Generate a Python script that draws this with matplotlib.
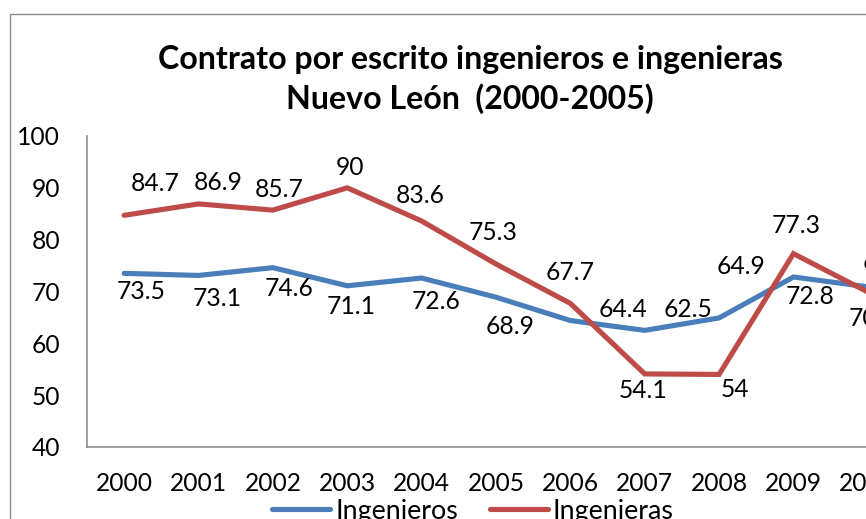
import matplotlib
matplotlib.use('Agg')
import matplotlib.pyplot as plt
from matplotlib import font_manager
from matplotlib.font_manager import FontProperties
from matplotlib.lines import Line2D
from matplotlib.patches import Rectangle

# ---------------- data ----------------
years = ['2000', '2001', '2002', '2003', '2004', '2005',
         '2006', '2007', '2008', '2009', '2010']
ingenieros = [73.5, 73.1, 74.6, 71.1, 72.6, 68.9, 64.4, 62.5, 64.9, 72.8, 70.9]
ingenieras = [84.7, 86.9, 85.7, 90.0, 83.6, 75.3, 67.7, 54.1, 54.0, 77.3, 69.9]
yticks = [40, 50, 60, 70, 80, 90, 100]
title_text = 'Contrato por escrito ingenieros e ingenieras\nNuevo León  (2000-2005)'
series_names = ['Ingenieros', 'Ingenieras']

# ---------------- style / layout ----------------
W, H, DPI = 866, 519, 100
BLUE = '#4A7EBB'
RED = '#BE4B48'
GRAY = '#868686'

# label offsets in pixels (dx, dy up), hand placed like the original
blue_off = [(17, -19), (19, -24), (16, -22), (4, -22), (14, -24), (14, -30),
            (53, 10), (43, 20), (22, 50), (17, -21), (5, -33)]
red_off = [(31, 31), (20, 20), (6, 20), (3, 19), (-1, 25), (-3, 31),
           (0, 30), (-2, -18), (16, -16), (3, 27), (19, 29)]


def has_font(name):
    try:
        font_manager.findfont(FontProperties(family=name), fallback_to_default=False)
        return True
    except Exception:
        return False


BODY = 'Lato' if has_font('Lato') else 'Liberation Sans'
TITLE_FONT = BODY

plt.rcParams['font.family'] = [BODY, 'DejaVu Sans']

fig = plt.figure(figsize=(W / DPI, H / DPI), dpi=DPI)
fig.patch.set_facecolor('white')
r = fig.canvas.get_renderer()


def fit_size(text, target_px, **kw):
    p = fig.text(0, 0, text, fontsize=20, **kw)
    w = p.get_window_extent(r).width
    p.remove()
    return 20 * target_px / w


# body font size so that "2000" is ~57 px wide, as in the original
FS = fit_size('2000', 57)
# legend font so that "Ingenieros" is ~123 px wide
LFS = fit_size(series_names[0], 123)
lem = LFS * DPI / 72  # legend em in px

# outer chart frame (extends beyond the cropped picture)
fig.add_artist(Rectangle((10 / W, -0.2), 2.0, 1 - 14 / H + 0.2,
                         transform=fig.transFigure, fill=False,
                         edgecolor='#8c8c8c', lw=1.0))

ax_l, ax_r, ax_t, ax_b = 87, 905, 136, 447
ax = fig.add_axes([ax_l / W, (H - ax_b) / H, (ax_r - ax_l) / W, (ax_b - ax_t) / H])

x = list(range(len(years)))
ax.plot(x, ingenieros, color=BLUE, lw=3.7, solid_joinstyle='miter', solid_capstyle='round')
ax.plot(x, ingenieras, color=RED, lw=3.7, solid_joinstyle='miter', solid_capstyle='round')

ax.set_xlim(-0.5, len(years) - 0.5)
ax.set_ylim(40, 100)
ax.set_yticks(yticks)
ax.set_xticks(x)
ax.set_xticklabels(years)
ax.tick_params(axis='both', length=0, labelsize=FS)
ax.tick_params(axis='y', pad=19.4)
ax.tick_params(axis='x', pad=18)
for s in ['top', 'right']:
    ax.spines[s].set_visible(False)
for s in ['left', 'bottom']:
    ax.spines[s].set_color(GRAY)
    ax.spines[s].set_linewidth(1.1)


def fmt(v):
    return f'{v:g}'


for i, v in enumerate(ingenieros):
    dx, dy = blue_off[i]
    ax.annotate(fmt(v), (i, v), xytext=(dx, dy + 1), textcoords='offset pixels',
                ha='center', va='center', fontsize=FS, annotation_clip=False)
for i, v in enumerate(ingenieras):
    dx, dy = red_off[i]
    ax.annotate(fmt(v), (i, v), xytext=(dx, dy + 1), textcoords='offset pixels',
                ha='center', va='center', fontsize=FS, annotation_clip=False)

# title, fitted to the original width
lines = title_text.split('\n')
tfs = fit_size(lines[0], 625, fontweight='bold', family=[TITLE_FONT, 'DejaVu Sans'])
title = fig.text(470 / W, 1 - 79.5 / H, title_text, ha='center', va='center',
                 multialignment='center', fontsize=tfs, fontweight='bold',
                 family=[TITLE_FONT, 'DejaVu Sans'],
                 linespacing=43 / (tfs * DPI / 72))

# legend
handles = [Line2D([], [], color=BLUE, lw=3.7, solid_capstyle='round'),
           Line2D([], [], color=RED, lw=3.7, solid_capstyle='round')]
fig.legend(handles, series_names, loc='center', bbox_to_anchor=(473 / W, 1 - 511 / H),
           ncol=2, frameon=False, fontsize=LFS, handlelength=58 / lem,
           handletextpad=5 / lem, columnspacing=32 / lem, borderpad=0, borderaxespad=0)

fig.savefig('out.png', dpi=DPI, facecolor='white')
